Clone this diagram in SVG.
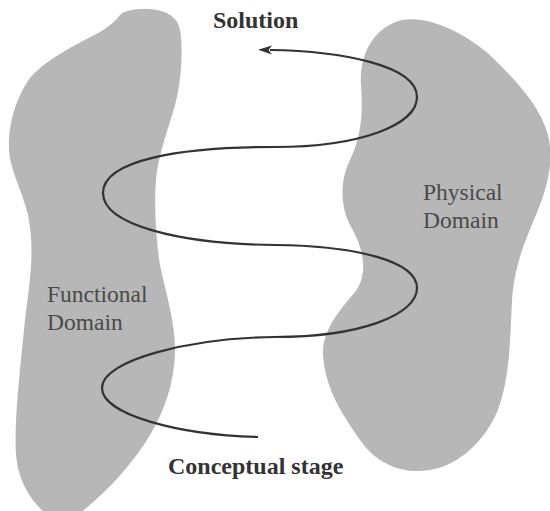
<svg xmlns="http://www.w3.org/2000/svg" width="550" height="511" viewBox="0 0 550 511">
<defs>
<style>
.blob{fill:#b7b7b7;stroke:none}
.spiral{fill:none;stroke:#333;stroke-width:2.2}
.title{font-family:"Liberation Serif",serif;font-weight:bold;font-size:24px;fill:#333}
.dom{font-family:"Liberation Serif",serif;font-size:23.5px;fill:#4a4a4a}
</style>
<marker id="ah" viewBox="0 0 14 10" refX="2" refY="5" markerWidth="14" markerHeight="10" markerUnits="userSpaceOnUse" orient="auto-start-reverse">
<path d="M14,5 L0,0.5 L3.5,5 L0,9.5 Z" fill="#333"/>
</marker>
</defs>
<rect width="550" height="511" fill="#fff"/>
<g id="functional-domain">
<path class="blob" d="M100,32 C108,27 115,22 120,15 C125,9 145,8 157,10 C168,12 178,18 180,30 C183,45 182,80 175,105 C168,130 158,155 156,180 C154,205 156,240 160,265 C165,290 175,320 175,350 C175,380 165,410 150,435 C135,460 110,490 80,513 L45,513 C30,500 18,480 16,455 C14,420 20,370 25,320 C30,280 35,250 28,215 C22,190 10,170 9,150 C8,120 18,95 30,78 C45,60 75,45 100,32 Z"/>
<text class="dom" x="47" y="302">Functional</text>
<text class="dom" x="47" y="330">Domain</text>
</g>
<g id="physical-domain">
<path class="blob" d="M402,20 C430,15 470,35 495,60 C515,80 540,105 548,135 C554,160 548,185 538,210 C528,235 515,260 512,300 C510,340 510,380 497,412 C485,440 460,465 430,470 C400,475 375,462 360,440 C345,418 325,390 323,355 C322,330 340,310 355,292 C368,275 365,250 350,225 C340,205 340,180 350,160 C362,135 363,110 361,85 C359,60 370,28 402,20 Z"/>
<text class="dom" x="423" y="200">Physical</text>
<text class="dom" x="423" y="228">Domain</text>
</g>
<g id="connectors">
<path class="spiral" marker-end="url(#ah)" d="M258,437 C180,435 102,415 102,388 C102,360 190,338 275,337 C360,337 417,315 417,288 C417,262 360,246 275,245 C180,244 103,225 103,193 C103,160 180,147 275,147 C360,147 417,125 417,97 C417,65 340,51 270,50"/>
</g>
<g id="labels">
<text class="title" x="213" y="28">Solution</text>
<text class="title" x="168" y="474">Conceptual stage</text>
</g>
</svg>
